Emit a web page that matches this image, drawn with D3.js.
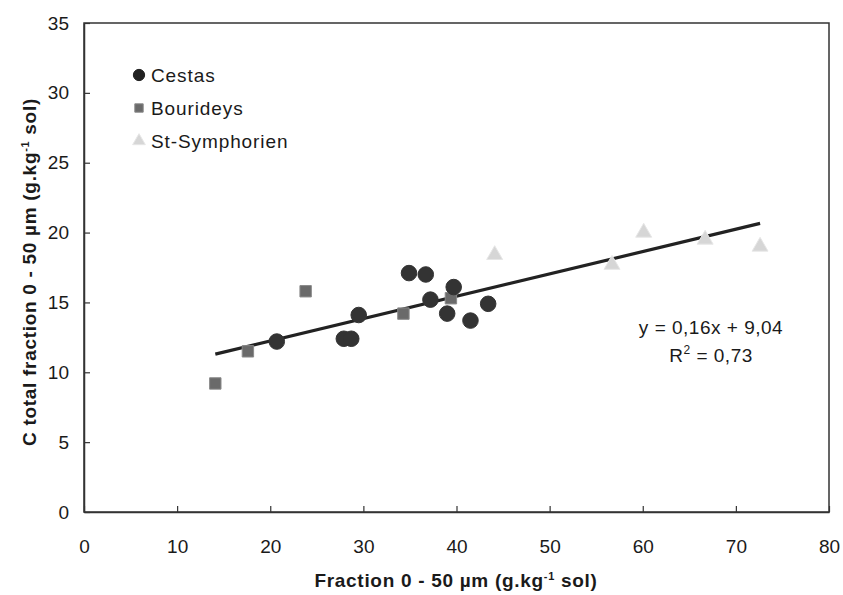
<!DOCTYPE html>
<html><head><meta charset="utf-8">
<script src="https://cdn.jsdelivr.net/npm/d3@7"></script>
<style>body{margin:0;background:#fff}svg{display:block}</style>
</head><body>
<svg id="c" width="843" height="595"></svg>
<script>
const cestasX = [20.7, 27.9, 28.7, 29.5, 34.9, 36.7, 37.2, 39.0, 39.7, 41.5, 43.4];
const cestasY = [12.2, 12.4, 12.4, 14.1, 17.1, 17.0, 15.2, 14.2, 16.1, 13.7, 14.9];
const bourX = [14.1, 17.6, 23.8, 34.3, 39.4];
const bourY = [9.2, 11.5, 15.8, 14.2, 15.3];
const stsX = [44.1, 56.7, 60.1, 66.7, 72.6];
const stsY = [18.4, 17.7, 20.0, 19.5, 19.0];
const xTicks = [0,10,20,30,40,50,60,70,80];
const yTicks = [0,5,10,15,20,25,30,35];
const slope = 0.16, intercept = 9.04, r2 = "0,73";
const seriesNames = ["Cestas","Bourideys","St-Symphorien"];

const svg = d3.select("#c");
const L=84, R=829, T=23, B=512;
const x = d3.scaleLinear().domain([0,80]).range([L,R]);
const y = d3.scaleLinear().domain([0,35]).range([B,T]);
const font = "'Liberation Sans', Arial, sans-serif";
const ink = "#1a1a1a";

svg.append("rect").attr("x",L).attr("y",T).attr("width",R-L).attr("height",B-T)
  .attr("fill","none").attr("stroke","#333").attr("stroke-width",1.5);

const xa = svg.append("g").attr("transform",`translate(0,${B})`)
  .call(d3.axisBottom(x).tickValues(xTicks).tickSizeInner(-6).tickSizeOuter(0).tickPadding(28));
const ya = svg.append("g").attr("transform",`translate(${L},0)`)
  .call(d3.axisLeft(y).tickValues(yTicks).tickSizeInner(-6).tickSizeOuter(0).tickPadding(15));
[xa,ya].forEach(a=>{
  a.select(".domain").attr("stroke","#333").attr("stroke-width",1.5);
  a.selectAll(".tick line").attr("stroke","#333").attr("stroke-width",1.2);
  a.selectAll(".tick text").attr("font-family",font).attr("font-size",19).attr("fill",ink);
});

const allX = cestasX.concat(bourX, stsX);
const [xmin,xmax] = d3.extent(allX);
svg.append("line").attr("x1",x(xmin)).attr("y1",y(slope*xmin+intercept))
  .attr("x2",x(xmax)).attr("y2",y(slope*xmax+intercept))
  .attr("stroke","#222").attr("stroke-width",3.2);

const sym = (type,size)=>d3.symbol().type(type).size(size)();
function draw(xs, ys, type, size, fill, stroke){
  svg.append("g").selectAll("path").data(xs.map((d,i)=>[d,ys[i]])).join("path")
    .attr("transform",d=>`translate(${x(d[0])},${y(d[1])})`)
    .attr("d",sym(type,size)).attr("fill",fill).attr("stroke",stroke).attr("stroke-width",1);
}
draw(stsX, stsY, d3.symbolTriangle, 110, "#d6d6d6", "#e6e6e6");
draw(bourX, bourY, d3.symbolSquare, 130, "#6a6a6a", "#8a8a8a");
draw(cestasX, cestasY, d3.symbolCircle, 190, "#333", "#333");

const leg = [
  {t:seriesNames[0], type:d3.symbolCircle, size:100, fill:"#222", stroke:"#222", yy:75},
  {t:seriesNames[1], type:d3.symbolSquare, size:70, fill:"#6a6a6a", stroke:"#888", yy:108},
  {t:seriesNames[2], type:d3.symbolTriangle, size:70, fill:"#d6d6d6", stroke:"#e6e6e6", yy:141}
];
leg.forEach(l=>{
  svg.append("path").attr("transform",`translate(139,${l.yy})`).attr("d",sym(l.type,l.size))
    .attr("fill",l.fill).attr("stroke",l.stroke);
  svg.append("text").attr("x",151).attr("y",l.yy+7).text(l.t)
    .attr("font-family",font).attr("font-size",19).attr("letter-spacing",0.9).attr("fill",ink);
});

svg.append("text").attr("x",711).attr("y",334).attr("text-anchor","middle")
  .attr("font-family",font).attr("font-size",19).attr("letter-spacing",0.5).attr("fill",ink)
  .text(`y = ${String(slope).replace(".",",")}x + ${String(intercept).replace(".",",")}`);
const rt = svg.append("text").attr("x",711).attr("y",362).attr("text-anchor","middle")
  .attr("font-family",font).attr("font-size",19).attr("letter-spacing",0.5).attr("fill",ink);
rt.append("tspan").text("R");
rt.append("tspan").attr("dy",-8).attr("font-size",12).text("2");
rt.append("tspan").attr("dy",8).text(" = " + r2);

const xt = svg.append("text").attr("x",456).attr("y",587).attr("text-anchor","middle")
  .attr("font-family",font).attr("font-size",19).attr("letter-spacing",0.7).attr("font-weight","bold").attr("fill",ink);
xt.append("tspan").text("Fraction 0 - 50 µm (g.kg");
xt.append("tspan").attr("dy",-7).attr("font-size",11).text("-1");
xt.append("tspan").attr("dy",7).text(" sol)");

const yt = svg.append("text").attr("transform","translate(36,272) rotate(-90)").attr("text-anchor","middle")
  .attr("font-family",font).attr("font-size",19).attr("letter-spacing",0.7).attr("font-weight","bold").attr("fill",ink);
yt.append("tspan").text("C total  fraction 0 - 50  µm (g.kg");
yt.append("tspan").attr("dy",-7).attr("font-size",11).text("-1");
yt.append("tspan").attr("dy",7).text(" sol)");
</script>
</body></html>
